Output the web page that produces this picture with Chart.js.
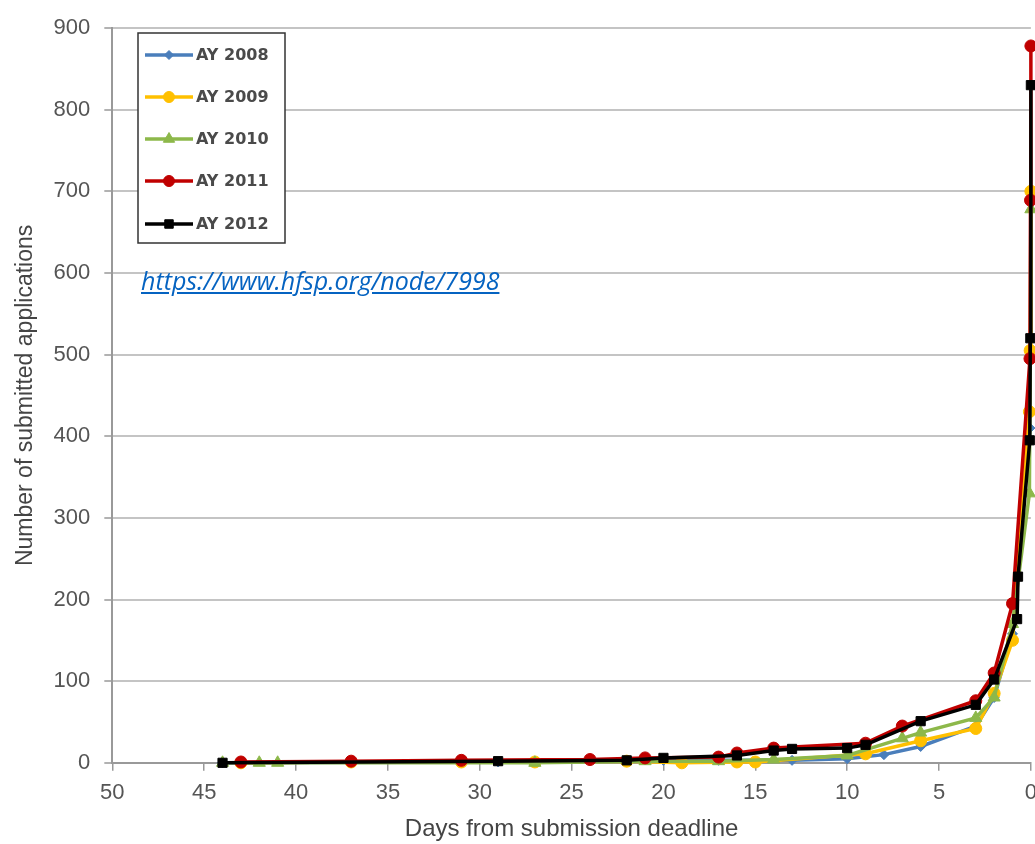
<!DOCTYPE html>
<html>
<head>
<meta charset="utf-8">
<script src="https://cdn.jsdelivr.net/npm/chart.js@4.4.0/dist/chart.umd.min.js"></script>
<style>
  html, body { margin: 0; padding: 0; background: #fff; overflow: hidden; }
  #wrap { position: absolute; left: 0; top: 0; width: 1046px; height: 844px; }
  #link {
    position: absolute; left: 141px; top: 263px;
    font: italic 25px "Open Sans", "Liberation Sans", sans-serif;
    color: #0563c1; text-decoration: underline;
  }
</style>
</head>
<body>
<div id="wrap"><canvas id="myChart"></canvas></div>
<a id="link" href="https://www.hfsp.org/node/7998">https://www.hfsp.org/node/7998</a>
<script>
// days before deadline -> cumulative submitted applications
var days2008 = [44, 29, 22, 20, 17, 13, 10, 8, 6, 3, 2, 1, 0.05];
var apps2008 = [0, 1, 2, 3, 3, 3, 5, 10, 20, 45, 80, 158, 410];

var days2009 = [43, 37, 31, 27, 22, 19, 16, 15, 9, 6, 3, 2, 1, 0.08, 0.04, 0];
var apps2009 = [0, 1, 1, 1, 2, 0, 1, 1, 11, 27, 42, 85, 150, 430, 505, 700];

var days2010 = [44, 42, 41, 27, 21, 17, 14, 10, 7, 6, 3, 2, 1, 0.08, 0];
var apps2010 = [0, 0, 0, 0, 2, 2, 4, 9, 30, 37, 55, 80, 170, 330, 678];

var days2011 = [43, 37, 31, 24, 21, 17, 16, 14, 9, 7, 3, 2, 1, 0.05, 0.02, 0];
var apps2011 = [1, 2, 3, 4, 6, 7, 12, 18, 24, 45, 76, 110, 195, 495, 689, 878];

var days2012 = [44, 29, 22, 20, 16, 14, 13, 10, 9, 6, 3, 2, 0.75, 0.7, 0.06, 0.03, 0];
var apps2012 = [0, 2, 3, 6, 9, 15, 17, 18, 22, 51, 71, 102, 176, 228, 395, 520, 830];

var xTicks = [50, 45, 40, 35, 30, 25, 20, 15, 10, 5, 0];

function pairs(xs, ys) {
    return xs.map(function (x, i) { return {x: x, y: ys[i]}; });
}

function series(label, xs, ys, color, style, radius, order) {
    return {
        label: label,
        data: pairs(xs, ys),
        showLine: true,
        borderColor: color,
        backgroundColor: color,
        borderWidth: 3.5,
        pointStyle: style,
        pointRadius: radius,
        pointBorderWidth: 1,
        pointBorderColor: color,
        pointBackgroundColor: color,
        tension: 0,
        clip: false,
        order: order
    };
}

// legend box sitting inside the plot, like the spreadsheet original
var boxLegend = {
    id: 'boxLegend',
    afterDraw: function (chart) {
        var ctx = chart.ctx;
        ctx.save();
        ctx.fillStyle = '#fff';
        ctx.fillRect(138, 33, 147, 210);
        ctx.strokeStyle = '#333';
        ctx.lineWidth = 1.5;
        ctx.strokeRect(138, 33, 147, 210);
        var rows = [55, 97, 139, 181, 224];
        chart.data.datasets.forEach(function (ds, i) {
            var y = rows[i];
            ctx.strokeStyle = ds.borderColor;
            ctx.fillStyle = ds.borderColor;
            ctx.lineWidth = 3.5;
            ctx.beginPath();
            ctx.moveTo(145, y);
            ctx.lineTo(193, y);
            ctx.stroke();
            ctx.lineWidth = 1;
            Chart.helpers.drawPoint(ctx, {pointStyle: ds.pointStyle, radius: ds.pointRadius - 0.5, rotation: 0, borderWidth: 1}, 169, y);
            ctx.fillStyle = '#4a4a4a';
            ctx.font = 'bold 16px "DejaVu Sans", sans-serif';
            ctx.textBaseline = 'middle';
            ctx.textAlign = 'left';
            ctx.fillText(ds.label, 196, y + 1);
        });
        ctx.restore();
    }
};

var ctx_chart = document.getElementById('myChart');
var myChart = new Chart(ctx_chart, {
    type: 'scatter',
    data: {
        datasets: [
            series('AY 2008', days2008, apps2008, '#4a7ebb', 'rectRot', 5, 5),
            series('AY 2009', days2009, apps2009, '#ffc000', 'circle', 6, 4),
            series('AY 2010', days2010, apps2010, '#8db84a', 'triangle', 7, 3),
            series('AY 2011', days2011, apps2011, '#c00000', 'circle', 6, 2),
            series('AY 2012', days2012, apps2012, '#000000', 'rect', 6.5, 1)
        ]
    },
    plugins: [boxLegend],
    options: {
        responsive: true,
        maintainAspectRatio: false,
        animation: false,
        layout: {padding: {top: 28, left: 12, right: 0, bottom: 0}},
        plugins: {
            legend: {display: false},
            tooltip: {enabled: false}
        },
        scales: {
            x: {
                type: 'linear',
                reverse: true,
                min: 0,
                max: 50,
                afterBuildTicks: function (axis) {
                    axis.ticks = xTicks.map(function (v) { return {value: v}; });
                },
                grid: {
                    drawOnChartArea: false,
                    drawTicks: true,
                    tickLength: 8,
                    color: '#999',
                    lineWidth: 1.5
                },
                border: {color: '#999', width: 2},
                ticks: {
                    color: '#555',
                    font: {family: 'Liberation Sans', size: 22},
                    padding: 9,
                    maxRotation: 0,
                    autoSkip: false
                },
                title: {
                    display: true,
                    text: 'Days from submission deadline',
                    color: '#444',
                    font: {family: 'Liberation Sans', size: 24},
                    padding: {top: 0, bottom: 0}
                }
            },
            y: {
                min: 0,
                max: 900,
                ticks: {
                    stepSize: 100,
                    color: '#555',
                    font: {family: 'Liberation Sans', size: 22},
                    padding: 14
                },
                grid: {
                    color: '#c4c4c4',
                    lineWidth: 2,
                    tickLength: 8,
                    tickColor: '#999',
                    tickWidth: 1.5
                },
                border: {color: '#999', width: 2},
                title: {
                    display: true,
                    text: 'Number of submitted applications',
                    color: '#444',
                    font: {family: 'Liberation Sans', size: 23},
                    padding: {top: 0, bottom: 0}
                }
            }
        }
    }
});
</script>
</body>
</html>
